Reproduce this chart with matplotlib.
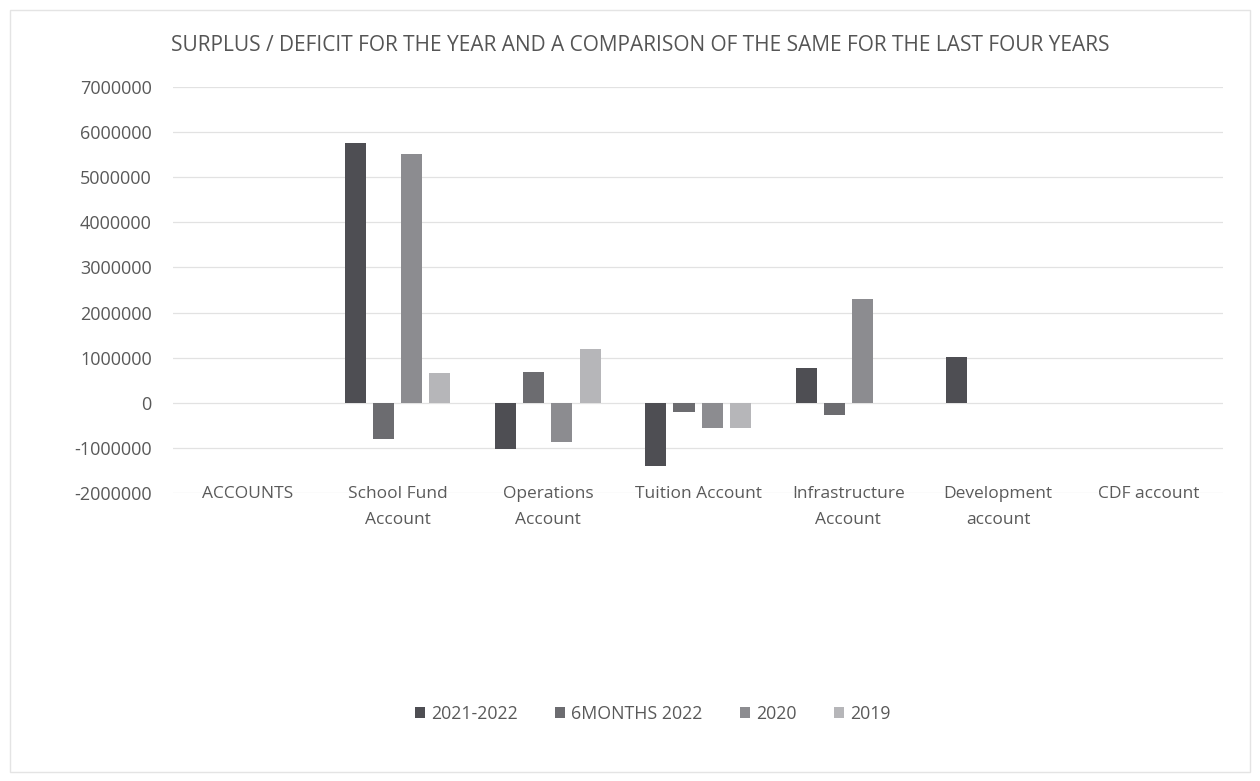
import numpy as np
import matplotlib.pyplot as plt
from matplotlib.patches import Rectangle

plt.rcParams['font.family'] = ['Open Sans', 'DejaVu Sans']

accounts = ['ACCOUNTS', 'School Fund\nAccount', 'Operations\nAccount', 'Tuition Account',
            'Infrastructure\nAccount', 'Development\naccount', 'CDF account']
series = ['2021-2022', '6MONTHS 2022', '2020', '2019']
fy_2021_22 = [0, 5760000, -1030000, -1400000, 760000, 1020000, 0]
six_months_2022 = [0, -800000, 690000, -200000, -280000, 0, 0]
y_2020 = [0, 5510000, -860000, -550000, 2290000, 0, 0]
y_2019 = [0, 670000, 1200000, -550000, 0, 0, 0]
yticks = [-2000000, -1000000, 0, 1000000, 2000000, 3000000, 4000000, 5000000, 6000000, 7000000]

colors = ['#4e4e53', '#6c6c70', '#8c8c90', '#b6b6b9']
values = [fy_2021_22, six_months_2022, y_2020, y_2019]

fig = plt.figure(figsize=(12.6, 7.81), dpi=100)
ax = fig.add_axes([0.137, 0.3688, 0.834, 0.5198])

x = np.arange(len(accounts))
pitch = 0.187
width = 0.14
for i, (vals, name, c) in enumerate(zip(values, series, colors)):
    ax.bar(x + (i - 1.5) * pitch, vals, width, color=c, label=name, zorder=3)

ax.set_xlim(-0.5, len(accounts) - 0.5)
ax.set_ylim(-2000000, 7000000)
ax.set_yticks(yticks)
ax.set_yticklabels([str(v) for v in yticks], fontsize=13, color='#595959')
ax.set_xticks(x)
ax.set_xticklabels(accounts, fontsize=12.5, color='#595959', va='top', linespacing=1.8)
ax.tick_params(axis='x', length=0, pad=-5)
ax.tick_params(axis='y', length=0, pad=15)
ax.grid(axis='y', color='#e2e2e2', linewidth=0.9, zorder=0)
for s in ax.spines.values():
    s.set_visible(False)

fig.text(0.508, 0.942, 'SURPLUS / DEFICIT FOR THE YEAR AND A COMPARISON OF THE SAME FOR THE LAST FOUR YEARS',
         ha='center', va='center', fontsize=15, color='#555555')

fig.legend(loc='center', bbox_to_anchor=(0.518, 0.086), ncol=4, frameon=False,
           fontsize=12.8, handlelength=0.55, handleheight=0.55, columnspacing=2.1,
           handletextpad=0.35, labelcolor='#595959')

fig.patches.append(Rectangle((0.008, 0.012), 0.984, 0.975, transform=fig.transFigure,
                             fill=False, edgecolor='#e4e4e4', linewidth=1))

fig.savefig('out.png', dpi=100)
